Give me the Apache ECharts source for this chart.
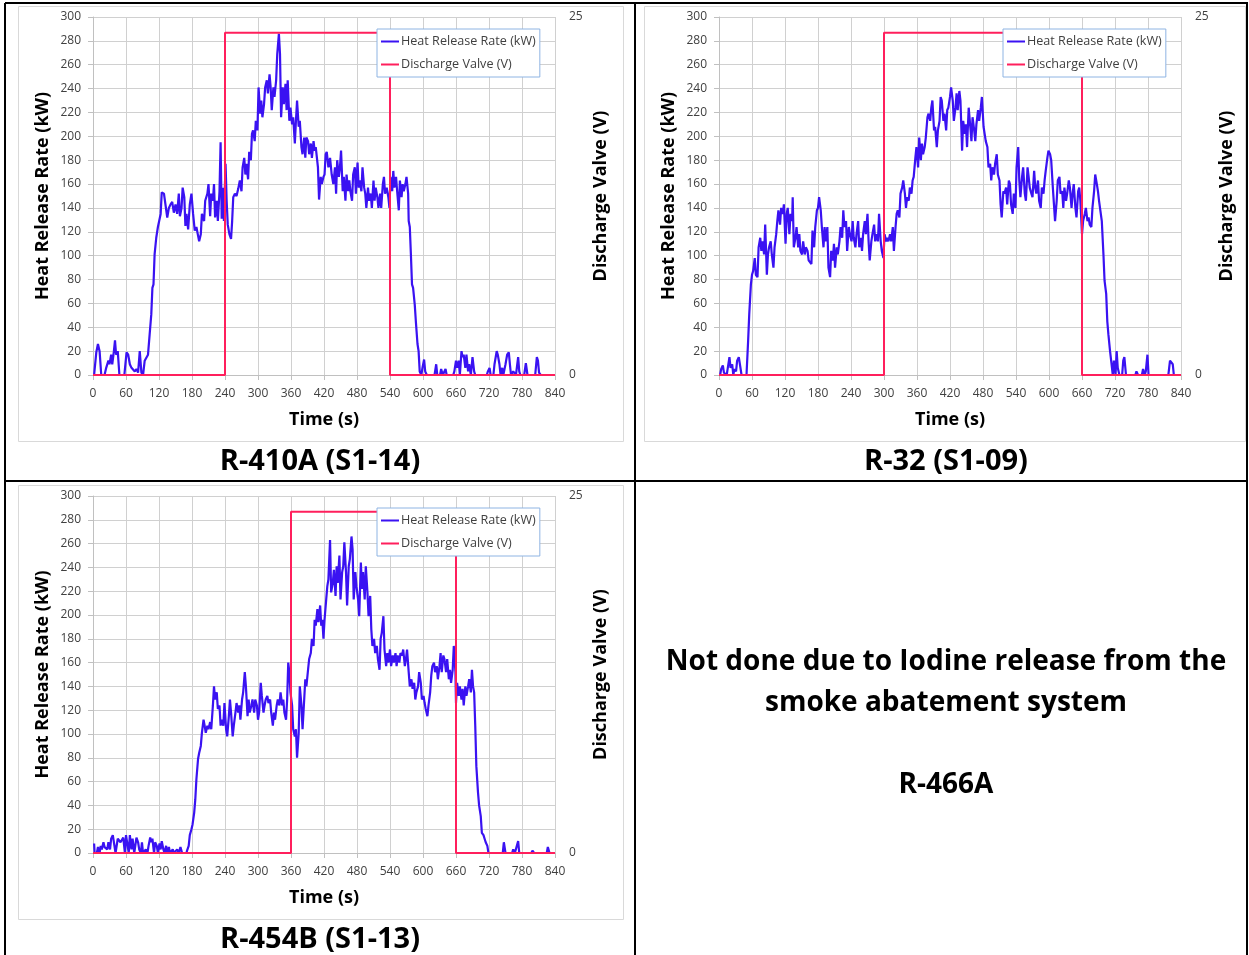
<!DOCTYPE html>
<html>
<head>
<meta charset="utf-8">
<script src="https://cdn.jsdelivr.net/npm/echarts@6/dist/echarts.min.js"></script>
<style>
html,body{margin:0;padding:0;background:#fff;}
#c{width:1249px;height:955px;}
</style>
</head>
<body>
<div id="c"></div>
<script>
// ---------- DATA ----------
const captions = ['R-410A (S1-14)', 'R-32 (S1-09)', 'R-454B (S1-13)'];
const noteLines = ['Not done due to Iodine release from the', 'smoke abatement system', '', 'R-466A'];
const seriesNames = ['Heat Release Rate (kW)', 'Discharge Valve (V)'];
const axisNames = { x: 'Time (s)', left: 'Heat Release Rate (kW)', right: 'Discharge Valve (V)' };

// Heat release rate [time s, kW]
const hrr410A = [[2,0],[6,19],[9,26],[12,20],[15,0],[21,0],[24,6],[28,12],[30,9],[33,17],[35,9],[38,20],[40,29],[42,17],[45,20],[48,0],[57,0],[61,19],[64,17],[67,9],[70,6],[76,3],[79,5],[82,2],[85,20],[88,2],[91,0],[94,12],[97,12],[100,17],[103,34],[106,51],[108,73],[110,76],[112,101],[115,115],[118,124],[121,125],[123,135],[125,153],[129,152],[131,153],[135,132],[138,140],[141,143],[144,145],[147,136],[150,143],[153,135],[156,152],[158,133],[161,140],[163,157],[166,149],[168,125],[170,135],[173,122],[176,143],[179,152],[182,135],[185,121],[188,124],[193,112],[196,118],[198,135],[202,129],[204,146],[208,152],[210,160],[213,133],[215,152],[218,146],[220,160],[222,132],[225,146],[227,129],[230,154],[232,195],[234,131],[237,157],[238,129],[241,177],[243,146],[245,126],[248,118],[251,114],[253,129],[255,149],[258,152],[261,150],[264,156],[267,163],[270,154],[272,174],[275,182],[277,168],[279,177],[282,164],[284,187],[287,180],[289,202],[291,205],[294,196],[296,213],[299,205],[301,241],[304,219],[306,230],[308,216],[311,227],[313,241],[316,247],[318,236],[321,252],[323,241],[325,222],[328,241],[330,233],[333,247],[335,269],[338,286],[340,269],[342,216],[345,241],[347,227],[350,244],[352,222],[354,247],[357,213],[359,224],[362,210],[364,216],[367,194],[369,213],[371,230],[374,208],[376,213],[379,191],[381,185],[384,199],[386,182],[388,199],[391,196],[393,185],[396,194],[398,182],[401,196],[403,188],[405,191],[409,174],[411,147],[414,166],[416,160],[419,166],[421,168],[423,185],[425,187],[428,174],[431,182],[434,168],[437,160],[440,174],[442,152],[444,180],[447,166],[449,174],[451,188],[454,154],[456,166],[459,146],[461,168],[464,154],[466,163],[468,154],[471,146],[473,168],[476,174],[478,152],[481,178],[483,157],[485,163],[488,154],[490,174],[493,157],[495,152],[497,140],[500,157],[502,146],[505,152],[507,140],[510,163],[512,146],[514,157],[517,149],[519,140],[522,152],[524,140],[527,160],[529,166],[531,152],[534,157],[537,149],[539,140],[541,166],[544,154],[546,171],[548,157],[551,166],[553,154],[556,138],[558,163],[561,149],[563,160],[565,154],[568,160],[570,166],[573,152],[574,129],[576,124],[578,101],[580,76],[582,73],[585,59],[587,45],[590,26],[592,20],[594,3],[597,0],[599,6],[602,13],[604,3],[607,0],[621,0],[624,9],[626,0],[631,0],[633,5],[636,0],[638,0],[641,5],[643,0],[655,0],[657,3],[660,12],[662,6],[665,12],[667,0],[670,20],[672,15],[674,17],[677,6],[679,17],[682,3],[684,9],[687,0],[690,15],[693,3],[695,0],[716,0],[718,3],[721,6],[723,0],[728,0],[730,9],[734,20],[736,17],[739,9],[741,0],[744,6],[746,0],[750,9],[753,17],[756,19],[758,9],[760,0],[764,3],[769,0],[773,15],[775,3],[777,0],[784,0],[787,10],[790,0],[804,0],[807,15],[809,12],[811,2],[814,0]];

const hrr32 = [[2,0],[4,5],[7,8],[9,2],[12,3],[14,0],[16,6],[19,15],[21,6],[24,9],[26,0],[28,5],[31,3],[33,12],[36,15],[38,9],[41,0],[50,0],[53,29],[55,51],[58,76],[60,84],[62,87],[65,98],[67,84],[70,82],[72,107],[75,115],[77,104],[79,112],[82,101],[84,126],[87,84],[89,101],[91,107],[94,112],[96,101],[99,90],[101,107],[104,118],[106,129],[108,138],[111,126],[113,140],[116,135],[118,143],[121,110],[123,135],[125,140],[128,118],[130,135],[133,129],[134,149],[136,107],[139,115],[141,124],[144,107],[146,118],[148,104],[151,101],[153,112],[156,101],[158,107],[161,104],[163,96],[165,96],[168,93],[170,121],[173,107],[175,124],[178,138],[180,140],[182,149],[185,138],[187,124],[190,107],[192,124],[194,112],[197,124],[199,90],[202,82],[204,104],[207,96],[209,110],[211,90],[214,107],[216,101],[219,112],[221,124],[224,115],[226,138],[228,124],[231,129],[233,104],[236,124],[238,118],[241,112],[243,129],[245,115],[248,107],[250,118],[253,129],[255,107],[258,115],[260,104],[262,118],[265,129],[267,118],[270,135],[272,112],[274,96],[277,112],[279,118],[282,126],[284,112],[287,118],[289,112],[291,135],[294,112],[296,104],[299,98],[301,118],[304,112],[306,115],[308,112],[311,118],[313,112],[316,124],[318,104],[321,124],[323,135],[325,138],[328,132],[330,152],[333,157],[335,163],[338,152],[340,140],[342,149],[345,146],[347,157],[350,152],[352,163],[354,166],[357,182],[359,191],[362,174],[364,199],[367,180],[369,194],[371,185],[374,191],[376,199],[379,216],[381,219],[384,213],[386,224],[388,230],[391,205],[393,208],[396,191],[398,205],[401,213],[403,233],[405,230],[408,213],[410,219],[413,205],[415,222],[417,224],[420,233],[422,241],[425,230],[427,213],[430,224],[432,236],[434,222],[437,238],[439,230],[442,188],[444,213],[447,202],[449,210],[451,191],[454,224],[456,213],[459,196],[461,216],[464,205],[466,196],[468,210],[471,222],[473,213],[476,224],[478,233],[481,208],[483,202],[485,196],[488,191],[490,174],[493,177],[495,163],[497,174],[500,168],[502,177],[505,185],[507,168],[510,163],[512,143],[514,132],[517,154],[519,152],[522,157],[524,143],[527,163],[529,160],[531,143],[534,135],[536,152],[539,140],[541,174],[544,191],[546,163],[548,149],[551,166],[553,174],[556,152],[558,146],[561,174],[563,166],[565,157],[568,152],[570,149],[573,171],[575,157],[577,152],[580,163],[582,146],[585,140],[587,157],[590,152],[592,163],[594,171],[597,182],[599,188],[602,185],[604,180],[607,157],[609,143],[611,129],[614,146],[616,163],[619,166],[621,152],[624,154],[626,140],[628,157],[631,146],[633,152],[636,163],[638,157],[641,140],[643,152],[645,160],[648,140],[650,132],[653,154],[655,157],[657,146],[660,118],[662,129],[665,135],[667,140],[670,129],[672,132],[674,126],[677,124],[679,140],[682,154],[684,168],[687,160],[689,154],[691,146],[694,146],[696,129],[699,101],[701,79],[704,68],[706,45],[708,34],[711,20],[713,12],[716,0],[718,12],[721,0],[723,20],[725,6],[728,0],[733,0],[735,12],[737,15],[740,0],[757,0],[759,3],[762,0],[769,0],[771,5],[774,0],[776,3],[779,17],[781,0],[817,0],[820,12],[822,13],[825,9],[827,0]];

const hrr454B = [[2,8],[3,0],[7,0],[9,5],[12,0],[14,6],[16,3],[19,9],[21,5],[24,6],[26,3],[28,9],[31,3],[33,12],[36,15],[38,9],[41,0],[43,0],[45,12],[48,13],[50,9],[53,10],[55,13],[58,0],[60,15],[62,9],[65,0],[67,15],[70,3],[72,12],[75,0],[77,0],[79,13],[82,9],[84,3],[87,0],[89,9],[91,0],[94,0],[96,3],[99,0],[101,6],[104,13],[106,9],[108,12],[111,0],[113,9],[116,6],[118,0],[121,8],[123,3],[125,10],[128,3],[130,0],[133,6],[135,0],[138,5],[140,0],[145,3],[147,0],[153,3],[156,0],[159,5],[162,0],[170,0],[171,2],[174,6],[176,15],[179,20],[181,24],[184,34],[186,45],[188,62],[191,79],[193,84],[196,90],[198,101],[201,112],[203,107],[205,101],[208,107],[210,104],[213,110],[215,104],[218,124],[220,140],[222,129],[225,135],[227,121],[230,124],[232,107],[234,112],[237,107],[239,126],[242,104],[244,98],[247,115],[249,129],[251,118],[254,98],[256,107],[259,118],[261,126],[264,118],[266,124],[268,112],[271,129],[273,135],[276,152],[278,140],[281,115],[283,129],[285,118],[288,124],[290,129],[293,118],[295,129],[298,124],[300,112],[302,118],[305,143],[307,132],[310,118],[312,124],[314,129],[317,132],[319,126],[322,129],[324,118],[327,107],[329,118],[331,112],[334,124],[336,129],[339,124],[341,135],[344,124],[346,129],[348,118],[351,112],[353,129],[355,160],[357,152],[359,135],[362,124],[364,104],[367,98],[369,104],[371,80],[374,101],[376,140],[379,124],[381,104],[384,129],[386,146],[388,140],[391,154],[393,163],[396,168],[398,180],[401,174],[403,196],[405,191],[408,205],[410,194],[413,208],[415,191],[417,196],[419,180],[421,196],[424,213],[426,224],[428,230],[431,263],[433,219],[436,227],[438,238],[441,216],[443,241],[445,227],[448,250],[450,213],[453,236],[455,241],[457,261],[460,236],[462,208],[465,241],[467,247],[470,266],[472,255],[474,213],[477,236],[479,224],[482,213],[484,199],[487,244],[489,222],[491,236],[494,213],[496,241],[499,219],[501,199],[504,216],[506,188],[508,174],[511,180],[513,168],[516,174],[518,163],[521,154],[523,180],[525,185],[528,199],[530,171],[533,157],[535,168],[537,160],[540,171],[542,157],[545,166],[547,160],[550,168],[552,157],[554,166],[557,160],[559,168],[562,166],[564,171],[567,157],[569,163],[571,171],[574,152],[576,140],[579,146],[581,138],[584,143],[586,129],[588,135],[591,140],[593,152],[596,143],[598,129],[601,132],[603,126],[605,121],[608,115],[610,124],[613,135],[615,149],[617,157],[620,160],[622,152],[625,157],[627,146],[630,157],[632,168],[634,152],[637,166],[639,163],[642,152],[644,163],[647,146],[649,154],[651,143],[654,154],[656,174],[659,152],[660,126],[662,143],[665,132],[667,140],[670,129],[672,138],[674,124],[677,140],[679,132],[682,140],[684,146],[687,135],[689,154],[691,140],[693,135],[695,107],[697,73],[700,51],[702,40],[705,31],[707,17],[710,15],[712,12],[714,9],[717,6],[719,0],[745,0],[747,9],[750,0],[762,0],[764,3],[767,0],[770,0],[773,10],[775,0],[797,0],[799,2],[802,0],[825,0],[827,5],[830,0]];

// Discharge valve [time s, V]
const valve410A = [[0,0],[240,0],[240,23.9],[540,23.9],[540,0],[840,0]];
const valve32   = [[0,0],[300,0],[300,23.9],[660,23.9],[660,0],[840,0]];
const valve454B = [[0,0],[360,0],[360,23.9],[660,23.9],[660,0],[840,0]];

const hrrSets = [hrr410A, hrr32, hrr454B];
const valveSets = [valve410A, valve32, valve454B];

// ---------- LAYOUT ----------
const FONT = '"Open Sans", Lato, sans-serif';
const grids = [
  {left: 93, top: 17, width: 462, height: 358},
  {left: 719, top: 17, width: 462, height: 358},
  {left: 93, top: 496, width: 462, height: 357}
];
const legendPos = [{left: 377, top: 29}, {left: 1003, top: 29}, {left: 377, top: 508}];
const captionPos = [[320, 462], [946, 462], [320, 940]];

const GRID_C = '#d0d0d0';
const LABEL_C = '#404040';
const BLUE = '#3a12f2';
const RED = '#ff1f5c';

const xAxes = [], yAxes = [], series = [], legends = [];
grids.forEach((g, i) => {
  xAxes.push({
    type: 'value', gridIndex: i, min: 0, max: 840, interval: 60,
    name: axisNames.x, nameLocation: 'middle', nameGap: 36,
    nameTextStyle: {fontFamily: FONT, fontWeight: 'bold', fontSize: 18, color: '#000'},
    axisLine: {show: true, lineStyle: {color: '#c0c0c0', width: 1}},
    axisTick: {show: true, length: 5, lineStyle: {color: '#c0c0c0'}},
    axisLabel: {fontFamily: FONT, fontSize: 12, color: LABEL_C, margin: 13},
    splitLine: {show: true, lineStyle: {color: GRID_C, width: 1}}
  });
  yAxes.push({
    type: 'value', gridIndex: i, position: 'left', min: 0, max: 300, interval: 20,
    name: axisNames.left, nameLocation: 'middle', nameGap: 41,
    nameTextStyle: {fontFamily: FONT, fontWeight: 'bold', fontSize: 18, color: '#000'},
    axisLine: {show: true, lineStyle: {color: '#c0c0c0', width: 1}},
    axisTick: {show: true, length: 5, lineStyle: {color: '#c0c0c0'}},
    axisLabel: {fontFamily: FONT, fontSize: 12, color: LABEL_C, margin: 12, padding: [4, 0, 0, 0]},
    splitLine: {show: true, lineStyle: {color: GRID_C, width: 1}}
  });
  yAxes.push({
    type: 'value', gridIndex: i, position: 'right', min: 0, max: 25, interval: 25,
    name: axisNames.right, nameLocation: 'middle', nameGap: 37,
    nameTextStyle: {fontFamily: FONT, fontWeight: 'bold', fontSize: 18, color: '#000'},
    axisLine: {show: false}, axisTick: {show: false},
    axisLabel: {fontFamily: FONT, fontSize: 12, color: LABEL_C, margin: 14, padding: [4, 0, 0, 0]},
    splitLine: {show: false}
  });
  series.push({
    name: seriesNames[0], type: 'line', xAxisIndex: i, yAxisIndex: 2 * i,
    data: hrrSets[i], showSymbol: false, symbol: 'none',
    lineStyle: {color: BLUE, width: 2.2}, itemStyle: {color: BLUE}, z: 2, silent: true
  });
  series.push({
    name: seriesNames[1], type: 'line', xAxisIndex: i, yAxisIndex: 2 * i + 1,
    data: valveSets[i], showSymbol: false, symbol: 'none',
    lineStyle: {color: RED, width: 2}, itemStyle: {color: RED}, z: 3, silent: true
  });
  legends.push({
    left: legendPos[i].left, top: legendPos[i].top, orient: 'vertical',
    data: seriesNames, icon: 'rect', itemWidth: 18, itemHeight: 2, itemGap: 8,
    backgroundColor: '#fff', borderColor: '#8eb4e3', borderWidth: 1,
    padding: [5, 4, 5, 4], selectedMode: false,
    textStyle: {fontFamily: FONT, fontSize: 12.6, color: LABEL_C, lineHeight: 15, padding: [0, 0, 0, -3]}
  });
});

const graphic = [];
// chart frames
[[18.5, 6.5, 605, 435], [644.5, 6.5, 601, 435], [18.5, 485.5, 605, 434]].forEach(r => {
  graphic.push({type: 'rect', shape: {x: r[0], y: r[1], width: r[2], height: r[3]},
    style: {fill: null, stroke: '#d9d9d9', lineWidth: 1}, z: 0, silent: true});
});
// table lines
const tableLines = [[5, 3, 1248, 3], [5, 3, 5, 955], [1247, 3, 1247, 955], [635, 3, 635, 955], [5, 481, 1247, 481]];
tableLines.forEach(l => {
  graphic.push({type: 'line', shape: {x1: l[0], y1: l[1], x2: l[2], y2: l[3]},
    style: {stroke: '#000', lineWidth: 2}, z: 10, silent: true});
});
// captions
captions.forEach((c, i) => {
  graphic.push({type: 'text', x: captionPos[i][0], y: captionPos[i][1],
    style: {text: c, font: 'bold 29px ' + FONT, fill: '#000', align: 'center', verticalAlign: 'middle'}, z: 10});
});
// note text in empty cell
const noteY = [662, 703, 744, 785];
noteLines.forEach((t, i) => {
  if (!t) return;
  graphic.push({type: 'text', x: 946, y: noteY[i],
    style: {text: t, font: 'bold 28px ' + FONT, fill: '#000', align: 'center', verticalAlign: 'middle'}, z: 10});
});

const chart = echarts.init(document.getElementById('c'), null, {renderer: 'canvas'});
chart.setOption({
  animation: false,
  backgroundColor: '#fff',
  grid: grids.map(g => Object.assign({containLabel: false}, g)),
  xAxis: xAxes, yAxis: yAxes, series: series, legend: legends, graphic: graphic
});
</script>
</body>
</html>
